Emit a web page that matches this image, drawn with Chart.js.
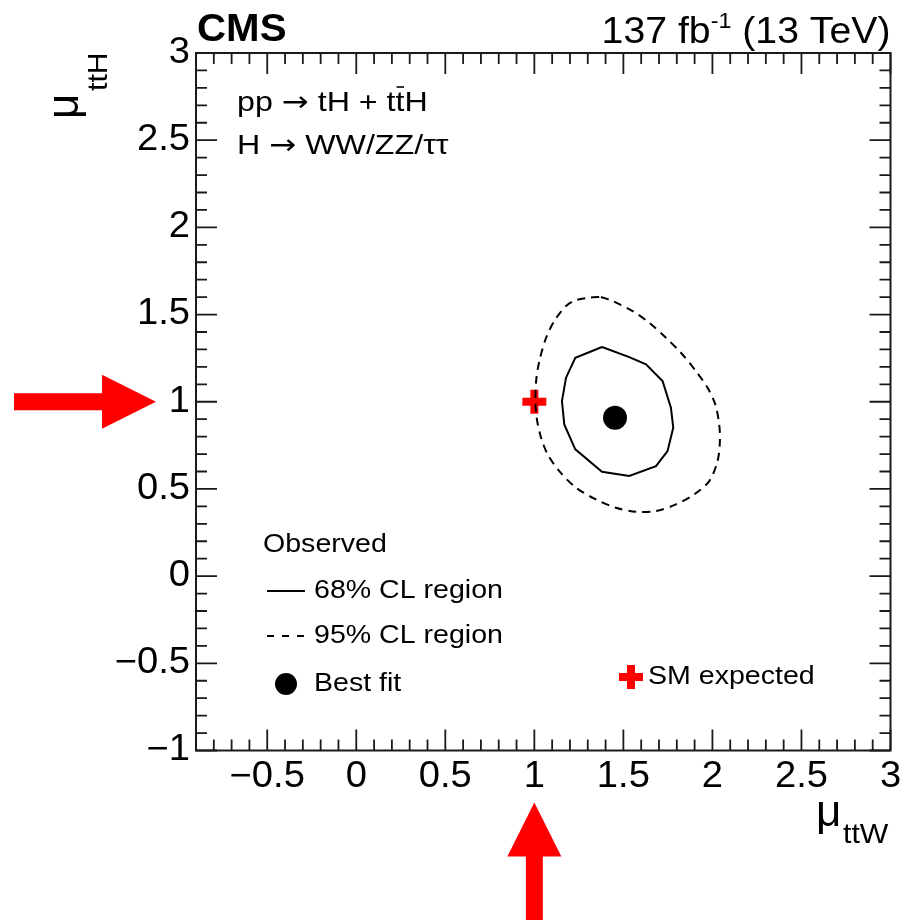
<!DOCTYPE html>
<html>
<head>
<meta charset="utf-8">
<script src="https://cdn.jsdelivr.net/npm/chart.js@4.4.1/dist/chart.umd.min.js"></script>
<style>
  html, body { margin: 0; padding: 0; background: #fff; }
  #wrap { width: 914px; height: 920px; }
</style>
</head>
<body>
<div id="wrap"><canvas id="c" width="914" height="920"></canvas></div>
<script>
// Observed 68% CL contour in the (mu_ttW, mu_ttH) plane
const contour68X = [1.380, 1.230, 1.178, 1.155, 1.168, 1.230, 1.380, 1.533, 1.683, 1.748, 1.780, 1.767, 1.720, 1.627, 1.533];
const contour68Y = [1.314, 1.252, 1.138, 1.004, 0.870, 0.727, 0.598, 0.574, 0.631, 0.717, 0.851, 0.966, 1.119, 1.215, 1.256];

// Observed 95% CL contour
const contour95X = [1.374, 1.439, 1.552, 1.645, 1.739, 1.823, 1.907, 1.973, 2.016, 2.038, 2.042, 2.029, 1.982, 1.898, 1.795, 1.683,
                    1.571, 1.458, 1.346, 1.234, 1.140, 1.075, 1.038, 1.013, 1.006, 1.010, 1.028, 1.066, 1.112, 1.178, 1.234, 1.309];
const contour95Y = [1.601, 1.578, 1.520, 1.453, 1.367, 1.281, 1.176, 1.080, 0.985, 0.870, 0.775, 0.660, 0.545, 0.469, 0.411, 0.373,
                    0.369, 0.392, 0.440, 0.507, 0.602, 0.698, 0.793, 0.908, 1.004, 1.119, 1.234, 1.367, 1.463, 1.549, 1.583, 1.597];

// Best-fit point and SM expectation
const bestFitX = [1.453];
const bestFitY = [0.908];
const smX = [1.0];
const smY = [1.0];

// Axis ranges and labelled ticks
const xRange = [-0.9, 3];
const yRange = [-1, 3];
const xTickValues = [-0.5, 0, 0.5, 1, 1.5, 2, 2.5, 3];
const xTickLabels = ['\u22120.5', '0', '0.5', '1', '1.5', '2', '2.5', '3'];
const yTickValues = [-1, -0.5, 0, 0.5, 1, 1.5, 2, 2.5, 3];
const yTickLabels = ['\u22121', '\u22120.5', '0', '0.5', '1', '1.5', '2', '2.5', '3'];

function toPoints(xs, ys, close) {
  const pts = xs.map((x, i) => ({ x: x, y: ys[i] }));
  if (close) pts.push({ x: xs[0], y: ys[0] });
  return pts;
}

const FONT = '"Liberation Sans", Arial, Helvetica, sans-serif';
const SX = 1.06; // slightly wide lettering

function txt(ctx, s, x, y, size, o) {
  o = o || {};
  ctx.save();
  ctx.font = (o.bold ? 'bold ' : '') + size + 'px ' + (o.family || FONT);
  ctx.textBaseline = o.base || 'alphabetic';
  ctx.textAlign = 'left';
  ctx.fillStyle = o.color || '#000';
  const sx = o.sx || SX;
  const w = ctx.measureText(s).width * sx;
  let x0 = x;
  if (o.align === 'right') x0 = x - w;
  else if (o.align === 'center') x0 = x - w / 2;
  ctx.translate(x0, y);
  ctx.scale(sx, 1);
  ctx.fillText(s, 0, 0);
  ctx.restore();
  return w;
}
function txtWidth(ctx, s, size, o) {
  o = o || {};
  ctx.save();
  ctx.font = (o.bold ? 'bold ' : '') + size + 'px ' + (o.family || FONT);
  const w = ctx.measureText(s).width * (o.sx || SX);
  ctx.restore();
  return w;
}

const ARROW_FONT = '"DejaVu Sans", sans-serif';

const decorations = {
  id: 'decorations',
  afterDatasetsDraw(chart) {
    const ctx = chart.ctx;
    const ca = chart.chartArea;
    const xs = chart.scales.x, ys = chart.scales.y;

    ctx.save();
    // frame
    ctx.strokeStyle = '#1a1a1a';
    ctx.lineWidth = 2;
    ctx.strokeRect(ca.left, ca.top, ca.right - ca.left, ca.bottom - ca.top);

    // inward ticks on all four sides
    ctx.lineWidth = 1.8;
    ctx.beginPath();
    for (let i = Math.ceil(xRange[0] * 10); i <= xRange[1] * 10; i++) {
      const px = xs.getPixelForValue(i / 10);
      const L = (i % 5 === 0) ? 21 : 11;
      ctx.moveTo(px, ca.bottom); ctx.lineTo(px, ca.bottom - L);
      ctx.moveTo(px, ca.top); ctx.lineTo(px, ca.top + L);
    }
    for (let i = yRange[0] * 10; i <= yRange[1] * 10; i++) {
      const py = ys.getPixelForValue(i / 10);
      const L = (i % 5 === 0) ? 21 : 11;
      ctx.moveTo(ca.left, py); ctx.lineTo(ca.left + L, py);
      ctx.moveTo(ca.right, py); ctx.lineTo(ca.right - L, py);
    }
    ctx.stroke();

    // tick labels
    xTickValues.forEach((v, i) => {
      txt(ctx, xTickLabels[i], xs.getPixelForValue(v), ca.bottom + 27, 36, { align: 'center', base: 'middle' });
    });
    yTickValues.forEach((v, i) => {
      txt(ctx, yTickLabels[i], ca.left - 6, ys.getPixelForValue(v), 36, { align: 'right', base: 'middle' });
    });

    // axis titles
    ctx.save();
    ctx.fillStyle = '#000';
    ctx.font = '44px ' + FONT;
    ctx.fillText('\u03bc', 816, 826);
    ctx.font = '28px ' + FONT;
    ctx.save(); ctx.translate(843, 843); ctx.scale(1.08, 1); ctx.fillText('ttW', 0, 0); ctx.restore();
    ctx.restore();

    ctx.save();
    ctx.fillStyle = '#000';
    ctx.translate(78, 119);
    ctx.rotate(-Math.PI / 2);
    ctx.font = '44px ' + FONT;
    ctx.fillText('\u03bc', 0, 0);
    ctx.font = '28px ' + FONT;
    ctx.save(); ctx.translate(28, 29); ctx.scale(1.08, 1); ctx.fillText('ttH', 0, 0); ctx.restore();
    ctx.restore();

    // header
    txt(ctx, 'CMS', ca.left + 1, 41, 38, { bold: true, sx: 1.06 });
    const lumiMain = '137 fb', lumiSup = '-1', lumiTail = ' (13 TeV)';
    const wMain = txtWidth(ctx, lumiMain, 37), wSup = txtWidth(ctx, lumiSup, 22), wTail = txtWidth(ctx, lumiTail, 37);
    let lx = ca.right - (wMain + wSup + wTail);
    lx += txt(ctx, lumiMain, lx, 43, 37);
    lx += txt(ctx, lumiSup, lx, 28, 22);
    txt(ctx, lumiTail, lx, 43, 37);

    // process text
    const PS = 28, PX = 1.15;
    let px = ca.left + 41;
    px += txt(ctx, 'pp ', px, 111, PS, { sx: PX });
    px += txt(ctx, '\u2192', px, 111, PS, { family: ARROW_FONT, sx: 1.15 });
    px += txt(ctx, ' tH + t', px, 111, PS, { sx: PX });
    const wt = txt(ctx, 't', px, 111, PS, { sx: PX });
    ctx.beginPath();
    ctx.lineWidth = 1.6;
    ctx.strokeStyle = '#000';
    ctx.moveTo(px + 1, 87); ctx.lineTo(px + wt - 0.5, 87);
    ctx.stroke();
    px += wt;
    txt(ctx, 'H', px, 111, PS, { sx: PX });

    let qx = ca.left + 41;
    qx += txt(ctx, 'H ', qx, 154, PS, { sx: PX });
    qx += txt(ctx, '\u2192', qx, 154, PS, { family: ARROW_FONT, sx: 1.15 });
    txt(ctx, ' WW/ZZ/\u03c4\u03c4', qx, 154, PS, { sx: PX });

    // legend
    const LS = 25.5, LX = 1.12;
    txt(ctx, 'Observed', 263, 545, LS, { base: 'middle', sx: LX });
    ctx.lineWidth = 2;
    ctx.strokeStyle = '#000';
    ctx.beginPath(); ctx.moveTo(267, 591); ctx.lineTo(305, 591); ctx.stroke();
    txt(ctx, '68% CL region', 314, 591, LS, { base: 'middle', sx: LX });
    ctx.setLineDash([7, 8]);
    ctx.beginPath(); ctx.moveTo(267, 636); ctx.lineTo(305, 636); ctx.stroke();
    ctx.setLineDash([]);
    txt(ctx, '95% CL region', 314, 636, LS, { base: 'middle', sx: LX });
    ctx.fillStyle = '#000';
    ctx.beginPath(); ctx.arc(286, 684, 11, 0, Math.PI * 2); ctx.fill();
    txt(ctx, 'Best fit', 314, 684, LS, { base: 'middle', sx: LX });
    ctx.fillStyle = '#ff0000';
    ctx.fillRect(619, 673, 24, 8);
    ctx.fillRect(627, 665, 8, 24);
    txt(ctx, 'SM expected', 648, 677, LS, { base: 'middle', sx: LX });

    // red arrows pointing at the SM value on each axis
    ctx.fillStyle = '#ff0000';
    const ay = ys.getPixelForValue(smY[0]);
    const tipX = ca.left - 40;
    ctx.beginPath();
    ctx.moveTo(tipX, ay);
    ctx.lineTo(tipX - 54, ay - 27);
    ctx.lineTo(tipX - 54, ay - 8.5);
    ctx.lineTo(14, ay - 8.5);
    ctx.lineTo(14, ay + 8.5);
    ctx.lineTo(tipX - 54, ay + 8.5);
    ctx.lineTo(tipX - 54, ay + 27);
    ctx.closePath();
    ctx.fill();

    const ax = xs.getPixelForValue(smX[0]);
    const tipY = ca.bottom + 52;
    ctx.beginPath();
    ctx.moveTo(ax, tipY);
    ctx.lineTo(ax + 27, tipY + 54);
    ctx.lineTo(ax + 8.5, tipY + 54);
    ctx.lineTo(ax + 8.5, 920);
    ctx.lineTo(ax - 8.5, 920);
    ctx.lineTo(ax - 8.5, tipY + 54);
    ctx.lineTo(ax - 27, tipY + 54);
    ctx.closePath();
    ctx.fill();

    ctx.restore();
  }
};

new Chart(document.getElementById('c'), {
  type: 'scatter',
  data: {
    datasets: [
      { label: '95% CL region', data: toPoints(contour95X, contour95Y, true), showLine: true,
        borderColor: '#000', borderWidth: 2, borderDash: [8, 6], pointRadius: 0, fill: false, tension: 0.3 },
      { label: '68% CL region', data: toPoints(contour68X, contour68Y, true), showLine: true,
        borderColor: '#000', borderWidth: 2, pointRadius: 0, fill: false, tension: 0 },
      { label: 'Best fit', data: toPoints(bestFitX, bestFitY, false), pointStyle: 'circle',
        pointRadius: 12, backgroundColor: '#000', borderWidth: 0 },
      { label: 'SM expected', data: toPoints(smX, smY, false), pointStyle: 'cross',
        pointRadius: 12, borderColor: '#ff0000', borderWidth: 8, backgroundColor: '#ff0000' }
    ]
  },
  options: {
    responsive: false,
    animation: false,
    events: [],
    layout: { padding: { left: 196, top: 53, right: 23.5, bottom: 169.5 } },
    plugins: { legend: { display: false }, tooltip: { enabled: false } },
    scales: {
      x: { type: 'linear', min: xRange[0], max: xRange[1], display: false },
      y: { type: 'linear', min: yRange[0], max: yRange[1], display: false }
    }
  },
  plugins: [decorations]
});
</script>
</body>
</html>
